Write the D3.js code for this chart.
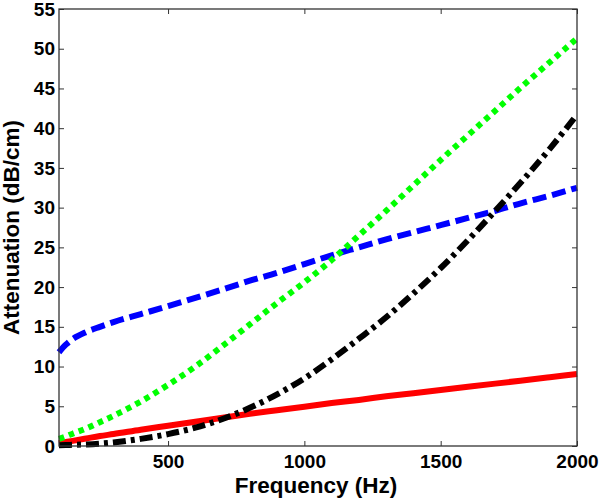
<!DOCTYPE html>
<html>
<head>
<meta charset="utf-8">
<script src="https://cdn.jsdelivr.net/npm/d3@7"></script>
<style>
  html, body { margin: 0; padding: 0; background: #fff; }
  svg { display: block; }
  text { font-family: "Liberation Sans", Arial, sans-serif; font-weight: bold; fill: #000; }
</style>
</head>
<body>
<svg id="chart" width="600" height="500"></svg>
<script>
// ---- data ----
const freq = [100,125,150,200,250,300,400,500,600,700,800,900,1000,1100,1200,1300,1400,1500,1600,1700,1800,1900,2000];
const blueDashed = [11.8,12.75,13.45,14.35,15.0,15.6,16.6,17.6,18.65,19.7,20.8,21.8,22.9,24.0,25.0,26.0,26.9,27.8,28.7,29.6,30.6,31.5,32.5];
const greenDotted = [0.9,1.2,1.55,2.2,3.0,3.8,5.6,7.7,10.0,12.6,15.3,18.0,20.6,23.4,26.5,29.6,32.8,36.0,39.1,42.2,45.3,48.3,51.3];
const redSolid = [0.35,0.5,0.65,0.95,1.25,1.5,2.05,2.55,3.05,3.55,4.05,4.5,4.95,5.4,5.8,6.25,6.65,7.05,7.45,7.85,8.25,8.65,9.05];
const blackDashDot = [0.1,0.12,0.15,0.2,0.3,0.45,0.9,1.5,2.3,3.4,4.8,6.5,8.5,10.9,13.5,16.2,19.2,22.4,25.9,29.6,33.4,37.4,41.7];
const xTicks = [500,1000,1500,2000];
const yTicks = [0,5,10,15,20,25,30,35,40,45,50,55];
const xLabel = "Frequency (Hz)";
const yLabel = "Attenuation (dB/cm)";

// ---- layout ----
const L = 59, R = 577, T = 9, B = 446;
const svg = d3.select("#chart");
const x = d3.scaleLinear().domain([100, 2000]).range([L, R]);
const y = d3.scaleLinear().domain([0, 55]).range([B, T]);
const axisColor = "#333";
const tickLen = 5;
const fmt = d3.format("d");

// axes (ticks inward, box)
const gB = svg.append("g").attr("transform", `translate(0,${B})`)
  .call(d3.axisBottom(x).tickValues(xTicks).tickSizeInner(-tickLen).tickSizeOuter(0).tickPadding(9).tickFormat(fmt));
const gT = svg.append("g").attr("transform", `translate(0,${T})`)
  .call(d3.axisTop(x).tickValues(xTicks).tickSizeInner(-tickLen).tickSizeOuter(0).tickFormat(""));
const gL = svg.append("g").attr("transform", `translate(${L},0)`)
  .call(d3.axisLeft(y).tickValues(yTicks).tickSizeInner(-tickLen).tickSizeOuter(0).tickPadding(4).tickFormat(fmt));
const gR = svg.append("g").attr("transform", `translate(${R},0)`)
  .call(d3.axisRight(y).tickValues(yTicks).tickSizeInner(-tickLen).tickSizeOuter(0).tickFormat(""));

[gB, gT, gL, gR].forEach(g => {
  g.select(".domain").remove();
  g.selectAll(".tick line").attr("stroke", axisColor).attr("stroke-width", 1);
  g.selectAll("text").attr("font-size", 19).attr("font-family", "'Liberation Sans', Arial, sans-serif")
    .attr("font-weight", "bold").attr("fill", "#000");
});

// lines
const series = [
  { values: blueDashed, color: "#0000ff", dash: "14,6", width: 6 },
  { values: redSolid, color: "#ff0000", dash: null, width: 6 },
  { values: greenDotted, color: "#00ff00", dash: "5.5,5", width: 6 },
  { values: blackDashDot, color: "#000000", dash: "13,5,4,5", width: 6 }
];
const line = d3.line().x(d => x(d[0])).y(d => y(d[1])).curve(d3.curveMonotoneX);
series.forEach(s => {
  svg.append("path")
    .datum(freq.map((f, i) => [f, s.values[i]]))
    .attr("d", line)
    .attr("fill", "none")
    .attr("stroke", s.color)
    .attr("stroke-width", s.width)
    .attr("stroke-dasharray", s.dash)
    .attr("stroke-linecap", "butt")
    .attr("stroke-linejoin", "round");
});

// frame
svg.append("rect").attr("x", L).attr("y", T).attr("width", R - L).attr("height", B - T)
  .attr("fill", "none").attr("stroke", axisColor).attr("stroke-width", 1.3);

// labels
svg.append("text").attr("x", (L + R) / 2 - 2).attr("y", 493).attr("text-anchor", "middle")
  .attr("font-size", 22.5).text(xLabel);
svg.append("text").attr("transform", `translate(19,${(T + B) / 2}) rotate(-90)`)
  .attr("text-anchor", "middle").attr("font-size", 22.5).text(yLabel);
</script>
</body>
</html>
